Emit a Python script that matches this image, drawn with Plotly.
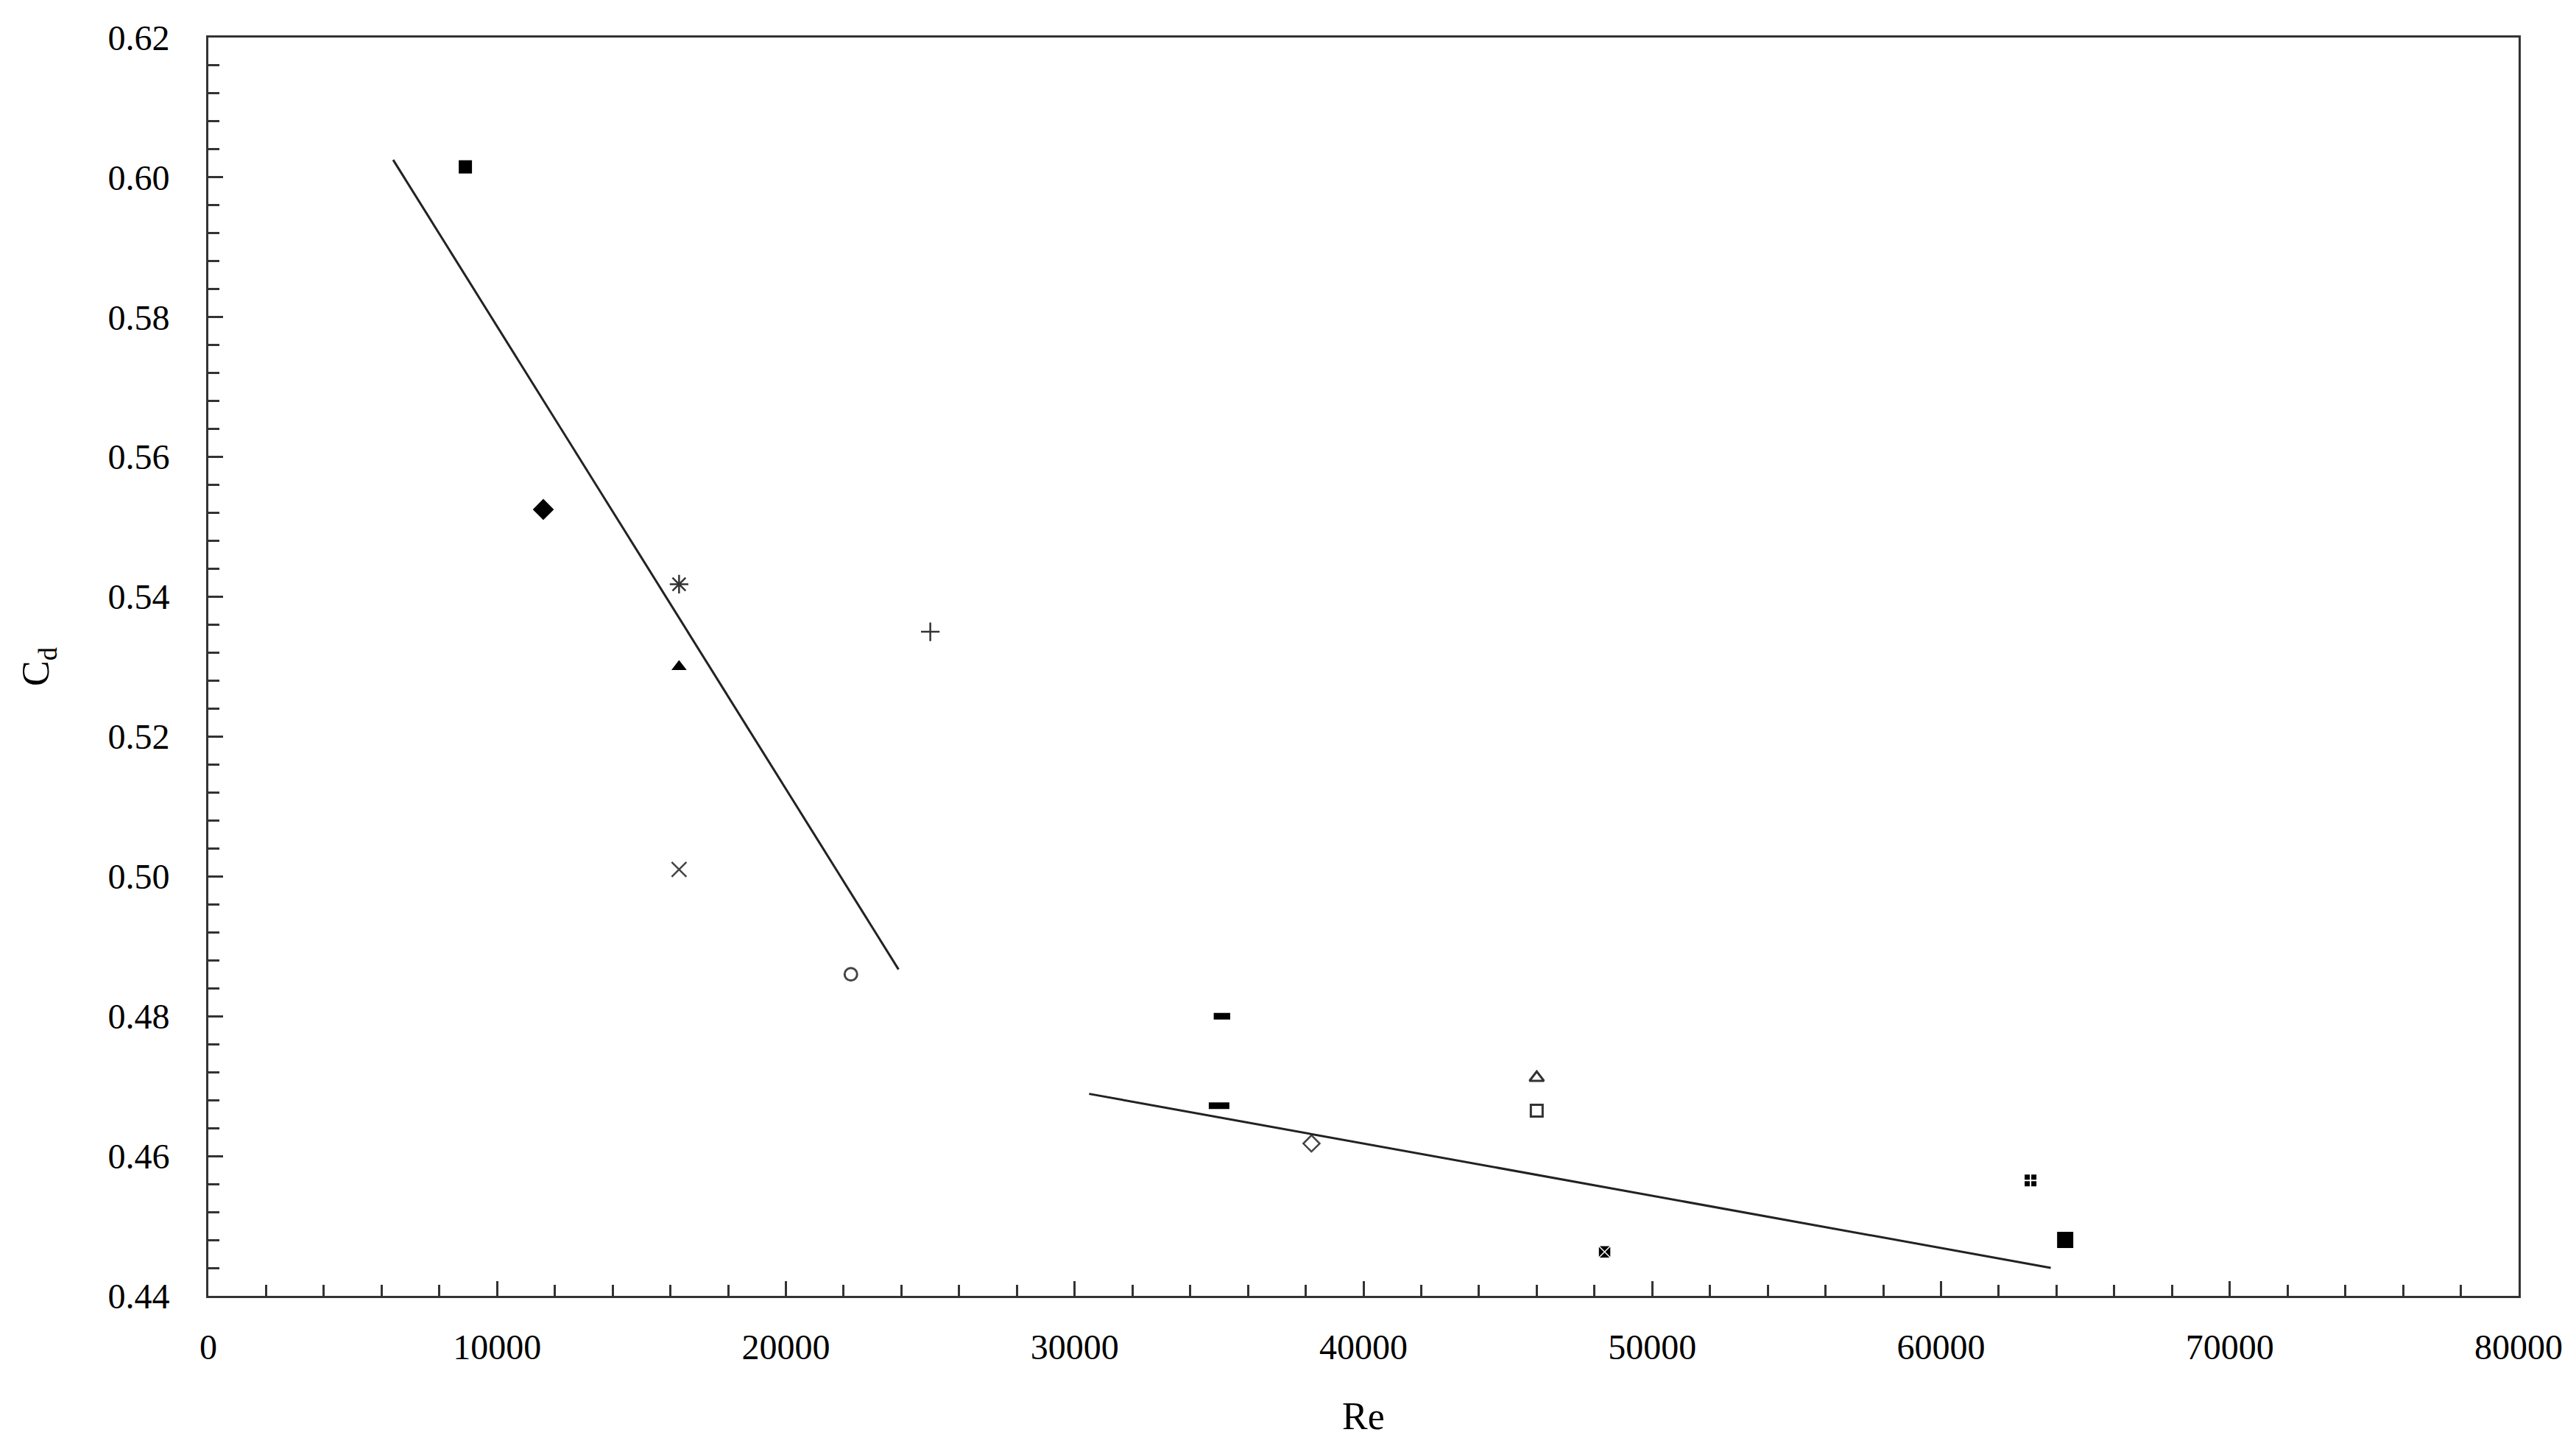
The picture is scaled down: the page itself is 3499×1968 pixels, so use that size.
import plotly.graph_objects as go

# ---- data ----
re_values = [8900, 11600, 16300, 16300, 16300, 25000, 22250, 35100, 35000,
             38200, 46000, 46000, 48350, 63100, 64300]
cd_values = [0.6015, 0.5525, 0.5418, 0.5300, 0.5010, 0.5350, 0.4860, 0.4800, 0.4672,
             0.4618, 0.4712, 0.4665, 0.4463, 0.4565, 0.4480]

fit1_re = [6400, 23900]
fit1_cd = [0.6025, 0.4867]
fit2_re = [30500, 63800]
fit2_cd = [0.4689, 0.4440]

x_ticks = [0, 10000, 20000, 30000, 40000, 50000, 60000, 70000, 80000]
y_ticks = [0.44, 0.46, 0.48, 0.50, 0.52, 0.54, 0.56, 0.58, 0.60, 0.62]

# ---- styles (symbol, size, fill color, line color, line width) ----
styles = [
    ("square", 18, "black", "black", 0),
    ("diamond", 22, "black", "black", 0),
    ("asterisk-open", 21, "#333", "#333", 2.5),
    ("triangle-up", 18, "black", "black", 0),
    ("x-thin-open", 20, "#444", "#444", 2.5),
    ("cross-thin-open", 18, "#333", "#333", 2.5),
    ("circle-open", 17, "#444", "#444", 3),
    ("line-ew-open", 16, "black", "black", 9),
    ("line-ew-open", 20, "black", "black", 9),
    ("diamond-open", 17, "#444", "#444", 2.5),
    ("triangle-up-open", 17, "#333", "#333", 3),
    ("square-open", 16, "#333", "#333", 3),
    ("square-x", 17, "black", "white", 1.5),
    ("square-cross", 18, "black", "white", 2),
    ("square", 22, "black", "black", 0),
]

fig = go.Figure()

for re_v, cd_v, (sym, size, fill, lc, lw) in zip(re_values, cd_values, styles):
    fig.add_trace(go.Scatter(
        x=[re_v], y=[cd_v], mode="markers", showlegend=False,
        marker=dict(symbol=sym, size=size, color=fill,
                    line=dict(color=lc, width=lw)),
    ))

for fx, fy in [(fit1_re, fit1_cd), (fit2_re, fit2_cd)]:
    fig.add_trace(go.Scatter(x=fx, y=fy, mode="lines", showlegend=False,
                             line=dict(color="#222", width=3)))

font_family = "Liberation Serif, Times New Roman, serif"
axis_common = dict(
    showgrid=False, zeroline=False, showline=True, linecolor="#333", linewidth=3,
    mirror=True, ticks="inside", ticklen=20, tickwidth=3, tickcolor="#333",
    tickfont=dict(family=font_family, size=48, color="black"),
)

fig.update_layout(
    width=3499, height=1968,
    margin=dict(l=283, r=78, t=51, b=208),
    paper_bgcolor="white", plot_bgcolor="white",
    xaxis=dict(range=[0, 80000], tickvals=x_ticks, ticktext=[str(v) for v in x_ticks],
               minor=dict(dtick=2000, tick0=0, ticks="inside", ticklen=15, tickwidth=3,
                          tickcolor="#333", showgrid=False),
               ticklabelstandoff=25,
               title=dict(text="Re", font=dict(family=font_family, size=52, color="black"),
                          standoff=50),
               **axis_common),
    yaxis=dict(range=[0.44, 0.62], tickvals=y_ticks, ticktext=[f"{v:.2f}" for v in y_ticks],
               minor=dict(dtick=0.004, tick0=0.44, ticks="inside", ticklen=15, tickwidth=3,
                          tickcolor="#333", showgrid=False),
               ticklabelstandoff=40,
               title=dict(text="C<sub>d</sub>", font=dict(family=font_family, size=52, color="black"),
                          standoff=64),
               **axis_common),
)

fig.write_html("out.html", config={"displayModeBar": False},
               post_script="document.body.style.margin='0';")
